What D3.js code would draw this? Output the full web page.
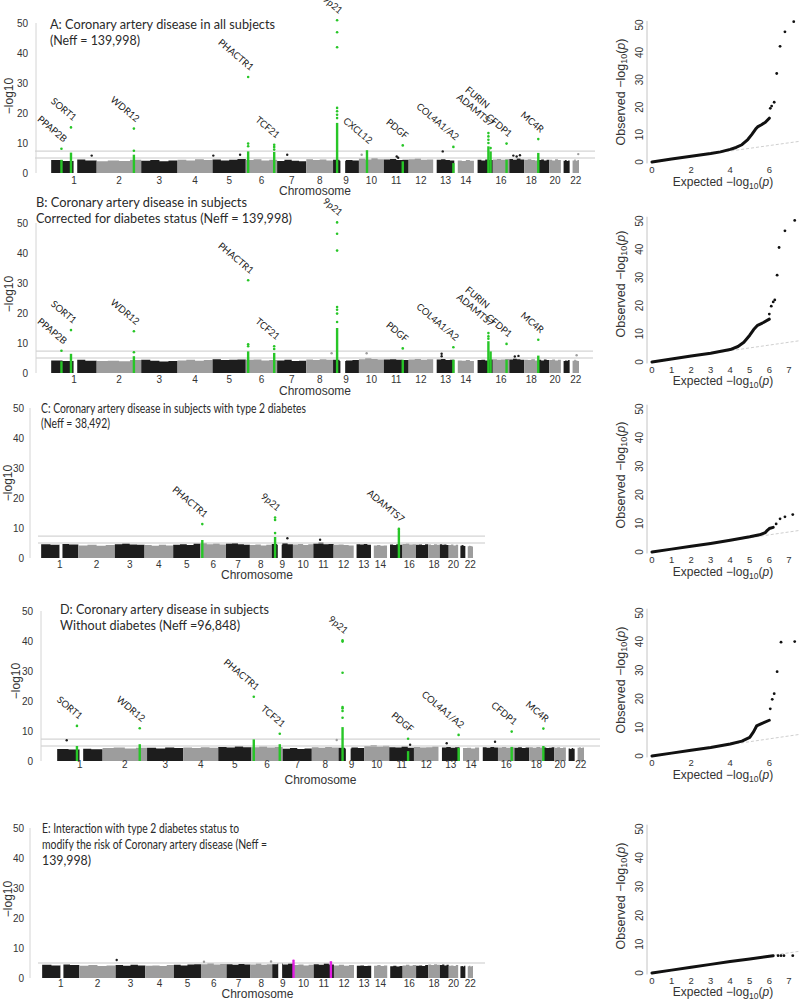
<!DOCTYPE html>
<html><head><meta charset="utf-8">
<script src="https://cdn.jsdelivr.net/npm/d3@7"></script>
<style>body{margin:0;background:#fff} svg{display:block}</style>
</head><body><svg id="c" width="800" height="1000"></svg>
<script>
// ---------- DATA ----------
const chromosomes = ["1","2","3","4","5","6","7","8","9","10","11","12","13","14","15","16","17","18","19","20","21","22"];
const chromLengthMb = [249,243,198,191,181,171,159,146,141,136,135,134,115,107,103,90,81,78,59,63,48,51];
const chromFirstMb = [1,0,0,0,0,0,0,0,0,0,0,0,19,19,20,0,0,0,0,0,15,16];
const gapChrom = ["1","9"];
const gapStartMb = [123,40];
const gapEndMb = [143,66];
const chromTickLabels = ["1","2","3","4","5","6","7","8","9","10","11","12","13","14","16","18","20","22"];
const manhattanYTicks = [0,10,20,30,40,50];
const thresholdsMain = [7.3,5];
const thresholdsInteraction = [5];

// band top envelope (-log10 p) per chromosome, 4 samples each
const bandA = [[4.3,4.0,4.5,4.2],[3.9,4.2,4.0,4.4],[4.1,4.3,3.9,4.2],[4.4,4.2,4.6,4.3],[4.5,4.2,4.4,4.7],[4.3,4.6,4.2,4.4],[4.0,4.4,4.1,3.9],[4.6,4.3,4.5,4.2],[4.4,4.1,4.3,4.2],[4.8,4.5,5.0,4.6],[4.5,4.7,4.3,4.4],[4.6,4.8,4.4,4.5],[4.4,4.6,4.3,4.2],[4.2,4.0,4.3,4.1],[4.4,4.2,4.5,4.3],[4.5,4.7,4.4,4.6],[4.7,4.4,4.9,4.5],[4.4,4.6,4.3,4.2],[4.3,4.5,4.2,4.4],[4.4,4.2,4.6,4.3],[4.1,4.3,4.0,4.2],[4.2,4.5,4.1,4.3]];
const bandB = [[4.2,4.0,4.4,4.1],[4.0,4.1,3.9,4.3],[4.4,4.1,3.8,4.0],[4.2,4.4,4.1,4.3],[4.6,4.3,4.4,4.5],[4.4,4.5,4.2,4.3],[4.2,4.4,4.0,4.1],[4.5,4.3,4.6,4.4],[4.4,4.0,4.2,4.3],[4.6,5.0,4.7,4.5],[4.5,4.6,4.4,4.3],[4.5,4.7,4.4,4.6],[4.5,4.7,4.3,4.4],[4.2,4.1,4.3,4.0],[4.3,4.4,4.2,4.5],[4.6,4.4,4.5,4.7],[4.5,4.8,4.6,4.4],[4.4,4.3,4.6,4.2],[4.4,4.2,4.5,4.3],[4.3,4.5,4.2,4.4],[4.0,4.2,4.1,4.3],[4.1,4.4,4.2,4.0]];
const bandC = [[4.6,4.4,4.7,4.5],[4.2,4.4,4.1,4.3],[4.6,4.8,4.5,4.4],[4.3,4.1,4.4,4.2],[4.4,4.6,4.3,4.8],[5.0,4.6,4.8,4.5],[4.8,5.0,4.6,4.4],[4.3,4.5,4.2,4.4],[4.7,4.4,5.0,4.6],[4.5,4.7,4.3,4.6],[4.8,5.2,4.6,4.7],[4.4,4.5,4.3,4.2],[4.6,4.5,4.7,4.4],[4.2,4.3,4.1,4.2],[4.5,4.3,4.6,4.4],[4.7,4.8,4.5,4.6],[4.4,4.5,4.3,4.6],[4.5,4.3,4.6,4.4],[4.6,4.4,4.5,4.3],[4.3,4.5,4.2,4.4],[4.1,4.3,4.2,4.0],[3.9,4.1,4.0,3.8]];
const bandD = [[4.0,3.8,4.1,3.9],[4.3,4.5,4.2,4.4],[4.4,4.2,4.5,4.3],[4.5,4.3,4.6,4.4],[4.7,4.5,4.9,4.6],[4.6,4.8,4.5,4.7],[4.1,4.3,4.0,4.2],[4.6,4.4,4.7,4.5],[4.4,4.2,4.5,4.3],[5.0,5.3,4.8,5.1],[4.6,4.5,4.8,4.4],[4.7,4.5,4.6,4.8],[4.5,4.7,4.4,4.6],[4.3,4.4,4.2,4.5],[4.6,4.4,4.7,4.5],[4.5,4.7,4.4,4.6],[4.4,4.6,4.3,4.5],[4.6,4.4,4.7,4.5],[4.5,4.3,4.4,4.6],[4.4,4.6,4.3,4.5],[4.2,4.0,4.3,4.1],[4.4,4.6,4.3,4.5]];
const bandE = [[4.4,4.2,4.5,4.3],[4.1,4.3,4.0,4.2],[4.3,4.1,4.4,4.2],[4.1,4.2,4.0,4.3],[4.4,4.2,4.5,4.6],[4.6,4.9,4.5,4.7],[4.6,4.4,4.7,4.5],[4.5,4.8,4.4,4.6],[4.6,4.9,4.5,4.8],[4.3,4.5,4.2,4.4],[4.6,4.4,4.8,4.5],[4.2,4.4,4.1,4.3],[4.1,4.2,4.0,4.1],[4.1,4.3,4.0,4.2],[3.9,4.1,3.8,4.0],[4.2,4.4,4.1,4.3],[4.1,4.2,4.0,4.3],[4.5,4.3,4.6,4.4],[4.3,4.5,4.2,4.4],[4.1,4.2,4.0,4.3],[3.9,4.0,3.8,4.1],[3.9,4.1,3.8,4.0]];

// isolated background SNPs above the band: [chromosome, Mb, -log10 p]
const outliersA = [["1",222,5.8],["5",4,5.8],["5",150,6.1],["7",55,6.1],["10",15,6.1],["11",70,5.5],["11",78,5.1],["13",52,7.2],["17",22,5.8],["17",40,5.5],["17",58,5.9],["22",47,6.3]];
const outliersB = [["8",138,6.6],["10",42,6.6],["13",46,6.4],["13",46,5.6],["17",30,5.5],["17",50,5.7],["22",38,5.9]];
const outliersC = [["9",104,6.6],["11",45,6.1]];
const outliersD = [["1",53,6.9],["8",136,7.0],["11",114,5.4],["13",45,5.9],["15",87,6.4]];
const outliersE = [["3",7,6.0],["8",138,5.5],["6",20,5.4]];

// highlighted loci: dense column up to `bar`, separate points at `dots`
const hitsA = [
  {locus:"PPAP2B",chr:"1",pos:57,bar:4.4,dots:[8.1]},
  {locus:"SORT1",chr:"1",pos:109,bar:6.8,dots:[15.2]},
  {locus:"WDR12",chr:"2",pos:203,bar:6.1,dots:[7.4,14.8]},
  {locus:"PHACTR1",chr:"6",pos:13,bar:7.2,dots:[8.9,9.8,32.0]},
  {locus:"TCF21",chr:"6",pos:155,bar:7.0,dots:[7.8,8.7,9.4]},
  {locus:"9p21",chr:"9",pos:22,bar:16.7,dots:[18.3,19.4,20.6,21.7,41.9,46.9,50.9]},
  {locus:"CXCL12",chr:"10",pos:44,bar:7.6,dots:[]},
  {locus:"PDGF",chr:"11",pos:103,bar:3.9,dots:[9.2]},
  {locus:"COL4A1/A2",chr:"13",pos:110,bar:3.3,dots:[8.7]},
  {locus:"ADAMTS7",chr:"15",pos:79,bar:8.9,dots:[10.0,11.1,12.2,13.3]},
  {locus:"FURIN",chr:"15",pos:91,bar:7.2,dots:[8.3]},
  {locus:"CFDP1",chr:"16",pos:75,bar:4.4,dots:[9.8]},
  {locus:"MC4R",chr:"18",pos:77,bar:6.7,dots:[11.3]}
];
const hitsB = [
  {locus:"PPAP2B",chr:"1",pos:57,bar:3.9,dots:[7.4]},
  {locus:"SORT1",chr:"1",pos:109,bar:6.4,dots:[14.3]},
  {locus:"WDR12",chr:"2",pos:203,bar:5.6,dots:[6.9,13.9]},
  {locus:"PHACTR1",chr:"6",pos:13,bar:7.2,dots:[8.9,9.6,30.9]},
  {locus:"TCF21",chr:"6",pos:155,bar:6.7,dots:[8.0,8.9]},
  {locus:"9p21",chr:"9",pos:22,bar:15.0,dots:[17.0,19.8,21.1,22.0,40.8,46.4,50.2]},
  {locus:"PDGF",chr:"11",pos:103,bar:4.4,dots:[8.2]},
  {locus:"COL4A1/A2",chr:"13",pos:110,bar:4.4,dots:[8.6]},
  {locus:"ADAMTS7",chr:"15",pos:79,bar:10.6,dots:[11.4,12.2,13.3]},
  {locus:"FURIN",chr:"15",pos:91,bar:7.2,dots:[]},
  {locus:"CFDP1",chr:"16",pos:75,bar:4.4,dots:[9.7]},
  {locus:"MC4R",chr:"18",pos:77,bar:5.8,dots:[11.1]}
];
const hitsC = [
  {locus:"PHACTR1",chr:"6",pos:13,bar:6.0,dots:[11.3]},
  {locus:"9p21",chr:"9",pos:22,bar:7.0,dots:[8.3,12.7,13.5]},
  {locus:"ADAMTS7",chr:"15",pos:79,bar:9.0,dots:[9.3,9.7]}
];
const hitsD = [
  {locus:"SORT1",chr:"1",pos:109,bar:5.0,dots:[11.7]},
  {locus:"WDR12",chr:"2",pos:203,bar:5.6,dots:[10.9]},
  {locus:"PHACTR1",chr:"6",pos:13,bar:7.2,dots:[21.4]},
  {locus:"TCF21",chr:"6",pos:155,bar:5.6,dots:[9.1]},
  {locus:"9p21",chr:"9",pos:22,bar:11.3,dots:[14.4,16.7,17.6,18.0,29.4,39.8,40.2]},
  {locus:"PDGF",chr:"11",pos:103,bar:3.3,dots:[7.4]},
  {locus:"COL4A1/A2",chr:"13",pos:110,bar:4.4,dots:[8.7]},
  {locus:"CFDP1",chr:"16",pos:75,bar:4.7,dots:[9.8]},
  {locus:"MC4R",chr:"18",pos:77,bar:5.0,dots:[10.8]}
];
const hitsE = [
  {locus:"chr10",chr:"10",pos:1,bar:5.3,dots:[5.7]},
  {locus:"chr11",chr:"11",pos:115,bar:5.6,dots:[]}
];

// gene labels; a pair = [lower label, label stacked above it]
const labelsA = ["PPAP2B","SORT1","WDR12","PHACTR1","TCF21","9p21","CXCL12","PDGF","COL4A1/A2",["ADAMTS7","FURIN"],"CFDP1","MC4R"];
const labelsB = ["PPAP2B","SORT1","WDR12","PHACTR1","TCF21","9p21","PDGF","COL4A1/A2",["ADAMTS7","FURIN"],"CFDP1","MC4R"];
const labelsC = ["PHACTR1","9p21","ADAMTS7"];
const labelsD = ["SORT1","WDR12","PHACTR1","TCF21","9p21","PDGF","COL4A1/A2","CFDP1","MC4R"];
const labelsE = [];

const titleA = ["A: Coronary artery disease in all subjects","(Neff = 139,998)"];
const titleB = ["B:  Coronary artery disease in subjects","Corrected for diabetes status (Neff = 139,998)"];
const titleC = ["C: Coronary artery disease in subjects with type 2 diabetes","(Neff = 38,492)"];
const titleD = ["D: Coronary artery disease in subjects","Without diabetes (Neff =96,848)"];
const titleE = ["E: Interaction with type 2 diabetes status to","modify the risk of Coronary artery disease (Neff =","139,998)"];

// QQ plots: dense trace [expected, observed] and separate top points
const qqTraceA = [[0,0],[1,1.1],[2,2.1],[3,3.1],[3.5,3.7],[4,4.6],[4.3,5.3],[4.6,6.3],[4.9,8.2],[5.1,10],[5.3,12],[5.4,12.8],[5.6,13.6],[5.8,14.5],[6.0,16]];
const qqTopA = [[6.05,19.6],[6.12,20.4],[6.25,21.8],[6.38,32.3],[6.55,42.2],[6.8,47.5],[7.25,51.2]];
const qqTraceB = [[0,0],[1,1.1],[2,2.1],[3,3.1],[4,4.4],[4.4,5.5],[4.7,7],[5,9.5],[5.2,11.5],[5.4,13],[5.7,14],[6,15.2]];
const qqTopB = [[6.0,17],[6.1,19.8],[6.2,21.3],[6.28,22],[6.4,30.8],[6.5,40.6],[6.8,46.5],[7.3,50.2]];
const qqTraceC = [[0,0],[1,1],[2,2],[3,3],[4,4.1],[5,5.3],[5.5,6],[5.8,6.8],[5.9,7.6],[6.0,8.2],[6.2,8.6]];
const qqTopC = [[6.35,9.8],[6.55,11.6],[6.8,12.3],[7.2,13.1]];
const qqTraceD = [[0,0],[1,1],[2,2],[3,3],[4,4.2],[4.6,5.2],[5.0,6.5],[5.2,8.5],[5.35,10.5],[5.6,11.3],[6.0,12.5]];
const qqTopD = [[6.05,16.5],[6.15,19.8],[6.25,21.8],[6.4,29.5],[6.6,39.8],[7.3,40.0]];
const qqTraceE = [[0,0],[1,1],[2,2],[3,3],[4,4],[5,4.9],[6,5.8],[6.2,6]];
const qqTopE = [[6.45,6.0],[6.6,6.0],[6.75,6.0],[7.2,6.0]];
const qqXTicksEven = [0,2,4,6];
const qqXTicksAll = [0,1,2,3,4,5,6,7];
const qqYTicks = [0,10,20,30,40,50];

// ---------- DRAWING ----------
const svg = d3.select("#c");
const SANS = "'Liberation Sans', Arial, sans-serif";
const TFONT = "Lato, 'Open Sans', sans-serif";
const BLACK = "#1d1d1d", GREY = "#9d9d9d", GREEN = "#27c627", MAGENTA = "#e21de2";
const TXT = "#333";

const cumStart = [];
let acc = 0;
chromLengthMb.forEach(l => { cumStart.push(acc); acc += l; });
const genomeLen = acc;

function drawManhattan(L, band, outliers, hits, labels, thresholds, title, hitColor) {
  const g = svg.append("g");
  const x = d3.scaleLinear().domain([0, genomeLen]).range([L.x0, L.x1]);
  const y = d3.scaleLinear().domain([0, 50]).range([L.zeroY, L.zeroY - 150]);
  const gx = (c, p) => x(cumStart[chromosomes.indexOf(c)] + p);

  // chromosome bands
  const area = d3.area().curve(d3.curveStepAfter).x(d => d[0]).y0(y(0)).y1(d => y(d[1]));
  chromosomes.forEach((c, i) => {
    const vals = band[i], s = chromFirstMb[i], e = chromLengthMb[i];
    const step = (e - s) / vals.length;
    const pts = vals.map((v, k) => [gx(c, s + k * step), v]);
    pts.push([gx(c, e), vals[vals.length - 1]]);
    g.append("path").attr("d", area(pts)).attr("fill", i % 2 === 0 ? BLACK : GREY);
  });
  // centromere gaps
  gapChrom.forEach((c, k) => {
    g.append("rect").attr("x", gx(c, gapStartMb[k])).attr("width", gx(c, gapEndMb[k]) - gx(c, gapStartMb[k]))
      .attr("y", y(5.6)).attr("height", y(0) - y(5.6) + 1).attr("fill", "#fff");
  });
  // threshold lines
  g.selectAll("line.thr").data(thresholds).join("line").attr("class","thr")
    .attr("x1", L.thrX0).attr("x2", L.thrX1).attr("y1", d => y(d)).attr("y2", d => y(d))
    .attr("stroke", "#c9c9c9").attr("stroke-width", 1);
  // outlier SNPs
  g.selectAll("circle.o").data(outliers).join("circle").attr("class","o")
    .attr("cx", d => gx(d[0], d[1])).attr("cy", d => y(d[2])).attr("r", 1.2)
    .attr("fill", d => chromosomes.indexOf(d[0]) % 2 === 0 ? BLACK : GREY);
  // hits
  hits.forEach(h => {
    const hx = gx(h.chr, h.pos);
    g.append("rect").attr("x", hx - 1.2).attr("width", 2.4).attr("y", y(h.bar)).attr("height", y(0) - y(h.bar)).attr("fill", hitColor);
    h.dots.forEach(v => g.append("circle").attr("cx", hx).attr("cy", y(v)).attr("r", 1.3).attr("fill", hitColor));
  });
  // labels
  labels.forEach(lab => {
    const lower = Array.isArray(lab) ? lab[0] : lab;
    const upper = Array.isArray(lab) ? lab[1] : null;
    const h = hits.find(d => d.locus === lower);
    const top = d3.max([h.bar, ...h.dots]);
    const lg = g.append("g").attr("transform", `translate(${gx(h.chr, h.pos) + 2},${y(top) - 6}) rotate(40)`);
    const t = lg.append("text").attr("text-anchor", "end").attr("font-family", TFONT).attr("font-size", 9.5).attr("fill", "#222").text(lower);
    if (upper) {
      const w = t.node().getComputedTextLength();
      lg.append("text").attr("x", -w + 2).attr("y", -11).attr("font-family", TFONT).attr("font-size", 9.5).attr("fill", "#222").text(upper);
    }
  });
  // y axis
  g.append("line").attr("x1", L.axisX).attr("x2", L.axisX).attr("y1", y(50)).attr("y2", y(0)).attr("stroke", "#d4d4d4");
  g.selectAll("text.yt").data(manhattanYTicks).join("text").attr("class","yt")
    .attr("x", L.tickRight).attr("y", d => y(d) + 3.5).attr("text-anchor", "end")
    .attr("font-family", SANS).attr("font-size", 10).attr("fill", TXT).text(d => d);
  g.append("text").attr("transform", `translate(${L.yLabelX},${L.yLabelY}) rotate(-90)`)
    .attr("text-anchor", "middle").attr("dominant-baseline", "central")
    .attr("font-family", SANS).attr("font-size", 12).attr("fill", TXT).text("\u2212log10");
  // chromosome axis
  g.selectAll("text.ct").data(chromTickLabels).join("text").attr("class","ct")
    .attr("x", d => { const i = chromosomes.indexOf(d); return x(cumStart[i] + (chromFirstMb[i] + chromLengthMb[i]) / 2); })
    .attr("y", L.chrBase).attr("text-anchor", "middle")
    .attr("font-family", SANS).attr("font-size", 10).attr("fill", TXT).text(d => d);
  g.append("text").attr("x", (L.x0 + L.x1) / 2).attr("y", L.chromTitleBase).attr("text-anchor", "middle")
    .attr("font-family", SANS).attr("font-size", 12).attr("fill", TXT).text("Chromosome");
  // title
  title.forEach((line, k) => {
    g.append("text").attr("x", L.titleX).attr("y", L.titleBases[k])
      .attr("font-family", TFONT).attr("font-size", 13.5).attr("fill", "#2a2a2a")
      .attr("textLength", L.titleWidths[k]).attr("lengthAdjust", "spacingAndGlyphs").text(line);
  });
}

function drawQQ(Q, trace, top, xticks) {
  const g = svg.append("g");
  const x = d3.scaleLinear().domain([0, 7]).range([652, 652 + 7 * 19.55]);
  const y = d3.scaleLinear().domain([0, 50]).range([Q.y0, Q.y50]);
  g.append("line").attr("x1", 647).attr("x2", 647).attr("y1", y(51.5)).attr("y2", y(-0.5)).attr("stroke", "#c4c4c4");
  g.selectAll("text.yt").data(qqYTicks).join("text").attr("class","yt")
    .attr("transform", d => `translate(639,${y(d)}) rotate(-90)`).attr("text-anchor", "middle").attr("dominant-baseline", "central")
    .attr("font-family", SANS).attr("font-size", 10).attr("fill", TXT).text(d => d);
  g.selectAll("text.xt").data(xticks).join("text").attr("class","xt")
    .attr("x", d => x(d)).attr("y", Q.xTickBase).attr("text-anchor", "middle")
    .attr("font-family", SANS).attr("font-size", 9.5).attr("fill", TXT).text(d => d);
  // expected line y = x
  g.append("line").attr("x1", x(0)).attr("y1", y(0)).attr("x2", x(7.5)).attr("y2", y(7.5))
    .attr("stroke", "#cfcfcf").attr("stroke-dasharray", "3,2").attr("stroke-width", 1);
  g.append("path").attr("d", d3.line().x(d => x(d[0])).y(d => y(d[1]))(trace))
    .attr("fill", "none").attr("stroke", "#111").attr("stroke-width", 3).attr("stroke-linejoin", "round").attr("stroke-linecap", "round");
  g.selectAll("circle").data(top).join("circle").attr("cx", d => x(d[0])).attr("cy", d => y(d[1])).attr("r", 1.4).attr("fill", "#111");
  // axis titles
  const ex = g.append("text").attr("x", 723).attr("y", Q.expBase).attr("text-anchor", "middle")
    .attr("font-family", SANS).attr("font-size", 12).attr("fill", TXT);
  ex.append("tspan").text("Expected  \u2212log");
  ex.append("tspan").attr("dy", 2.5).attr("font-size", 8.5).text("10");
  ex.append("tspan").attr("dy", -2.5).text("(");
  ex.append("tspan").attr("font-style", "italic").text("p");
  ex.append("tspan").text(")");
  const ob = g.append("text").attr("transform", `translate(621,${Q.obsY}) rotate(-90)`).attr("text-anchor", "middle")
    .attr("dominant-baseline", "central").attr("font-family", SANS).attr("font-size", 12.5).attr("fill", TXT);
  ob.append("tspan").text("Observed  \u2212log");
  ob.append("tspan").attr("dy", 3).attr("font-size", 9).text("10");
  ob.append("tspan").attr("dy", -3).text("(");
  ob.append("tspan").attr("font-style", "italic").text("p");
  ob.append("tspan").text(")");
}

const LA = {x0:51,x1:579,zeroY:173,axisX:36,tickRight:28,yLabelX:9,yLabelY:96,chrBase:184,chromTitleBase:195,thrX0:35,thrX1:595,titleX:50,titleBases:[29,45],titleWidths:[225,90]};
const LB = {x0:51,x1:579,zeroY:373,axisX:36,tickRight:28,yLabelX:9,yLabelY:294,chrBase:383,chromTitleBase:395,thrX0:36,thrX1:593,titleX:36,titleBases:[207,223],titleWidths:[211,256]};
const LC = {x0:41,x1:473,zeroY:558,axisX:30,tickRight:24,yLabelX:8,yLabelY:483,chrBase:568,chromTitleBase:579,thrX0:38,thrX1:485,titleX:41,titleBases:[413,428],titleWidths:[265,69]};
const LD = {x0:57,x1:584,zeroY:761,axisX:41,tickRight:33,yLabelX:16,yLabelY:681,chrBase:768,chromTitleBase:784,thrX0:41,thrX1:600,titleX:60,titleBases:[614,630],titleWidths:[209,180]};
const LE = {x0:42,x1:473,zeroY:978,axisX:30,tickRight:24,yLabelX:8,yLabelY:899,chrBase:987,chromTitleBase:998,thrX0:38,thrX1:485,titleX:42,titleBases:[833,849,865],titleWidths:[197,225,49]};

drawManhattan(LA, bandA, outliersA, hitsA, labelsA, thresholdsMain, titleA, GREEN);
drawManhattan(LB, bandB, outliersB, hitsB, labelsB, thresholdsMain, titleB, GREEN);
drawManhattan(LC, bandC, outliersC, hitsC, labelsC, thresholdsMain, titleC, GREEN);
drawManhattan(LD, bandD, outliersD, hitsD, labelsD, thresholdsMain, titleD, GREEN);
drawManhattan(LE, bandE, outliersE, hitsE, labelsE, thresholdsInteraction, titleE, MAGENTA);

drawQQ({y0:162,y50:25,xTickBase:173,expBase:186,obsY:92}, qqTraceA, qqTopA, qqXTicksEven);
drawQQ({y0:362,y50:221,xTickBase:373,expBase:385,obsY:284}, qqTraceB, qqTopB, qqXTicksAll);
drawQQ({y0:552,y50:409,xTickBase:563,expBase:576,obsY:475}, qqTraceC, qqTopC, qqXTicksAll);
drawQQ({y0:756,y50:613,xTickBase:766,expBase:779,obsY:680}, qqTraceD, qqTopD, qqXTicksEven);
drawQQ({y0:973,y50:829,xTickBase:984,expBase:996,obsY:896}, qqTraceE, qqTopE, qqXTicksAll);
</script></body></html>
